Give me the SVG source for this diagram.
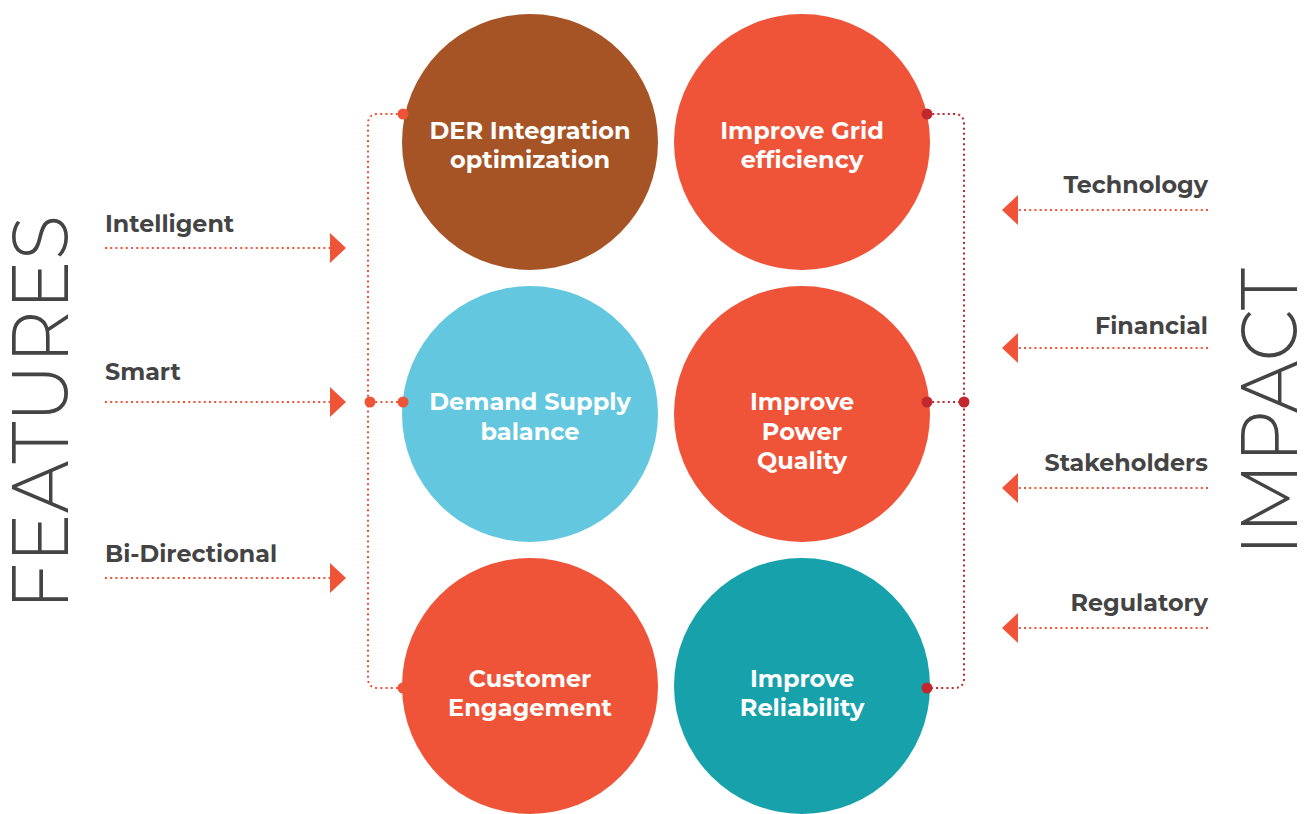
<svg xmlns="http://www.w3.org/2000/svg" width="1308" height="814" viewBox="0 0 1308 814">
<style>
.lbl{font-family:"Montserrat","Open Sans","Liberation Sans",sans-serif;font-weight:700;font-size:23.8px;fill:#444}
.ct{font-family:"Montserrat","Open Sans","Liberation Sans",sans-serif;font-weight:700;font-size:24px;fill:#fff;text-anchor:middle}
.big{font-family:"Montserrat","Lato","Open Sans","Liberation Sans",sans-serif;font-weight:300;font-size:80px;fill:#444}
.dl{fill:none;stroke:#ef5338;stroke-width:2;stroke-dasharray:2 3.2}
.dr{fill:none;stroke:#c0282d;stroke-width:2;stroke-dasharray:2 3.2}
.ah{fill:#ef5338}
</style>
<rect width="1308" height="814" fill="#fff"/>
<text class="big" transform="translate(68,610) rotate(-90)" textLength="395" lengthAdjust="spacingAndGlyphs">FEATURES</text>
<text class="big" transform="translate(1297,556) rotate(-90)" textLength="288" lengthAdjust="spacingAndGlyphs">IMPACT</text>
<g id="connectors">
<path class="dl" d="M403,114 H378 Q368,114 368,124 V678 Q368,688 378,688 H403"/>
<path class="dl" d="M370,402 H403"/>
<path class="dr" d="M927,114 H954 Q964,114 964,124 V678 Q964,688 954,688 H927"/>
<path class="dr" d="M927,402 H964"/>
<path class="dl" d="M105,248 H332"/>
<polygon class="ah" points="330,233 346,248 330,263"/>
<path class="dl" d="M105,402 H332"/>
<polygon class="ah" points="330,387 346,402 330,417"/>
<path class="dl" d="M105,578 H332"/>
<polygon class="ah" points="330,563 346,578 330,593"/>
<path class="dl" d="M1208,210 H1016"/>
<polygon class="ah" points="1018,195 1002,210 1018,225"/>
<path class="dl" d="M1208,348 H1016"/>
<polygon class="ah" points="1018,333 1002,348 1018,363"/>
<path class="dl" d="M1208,488 H1016"/>
<polygon class="ah" points="1018,473 1002,488 1018,503"/>
<path class="dl" d="M1208,628 H1016"/>
<polygon class="ah" points="1018,613 1002,628 1018,643"/>
</g>
<g id="labels">
<text class="lbl" x="105" y="232">Intelligent</text>
<text class="lbl" x="105" y="380">Smart</text>
<text class="lbl" x="105" y="562">Bi-Directional</text>
<text class="lbl" x="1208" y="193" text-anchor="end">Technology</text>
<text class="lbl" x="1208" y="334" text-anchor="end">Financial</text>
<text class="lbl" x="1208" y="471" text-anchor="end">Stakeholders</text>
<text class="lbl" x="1208" y="611" text-anchor="end">Regulatory</text>
</g>
<g id="n1"><circle cx="530" cy="142" r="128" fill="#a65426"/><text class="ct" x="530" y="139">DER Integration</text><text class="ct" x="530" y="168">optimization</text></g>
<g id="n2"><circle cx="802" cy="142" r="128" fill="#ef5338"/><text class="ct" x="802" y="139">Improve Grid</text><text class="ct" x="802" y="168">efficiency</text></g>
<g id="n3"><circle cx="530" cy="414" r="128" fill="#63c8df"/><text class="ct" x="530" y="410">Demand Supply</text><text class="ct" x="530" y="440">balance</text></g>
<g id="n4"><circle cx="802" cy="414" r="128" fill="#ef5338"/><text class="ct" x="802" y="410">Improve</text><text class="ct" x="802" y="440">Power</text><text class="ct" x="802" y="469">Quality</text></g>
<g id="n5"><circle cx="530" cy="686" r="128" fill="#ef5338"/><text class="ct" x="530" y="687">Customer</text><text class="ct" x="530" y="716">Engagement</text></g>
<g id="n6"><circle cx="802" cy="686" r="128" fill="#17a2ab"/><text class="ct" x="802" y="687">Improve</text><text class="ct" x="802" y="716">Reliability</text></g>
<g id="dots">
<circle cx="403" cy="114" r="5.5" fill="#ef5338"/>
<circle cx="370" cy="402" r="5.5" fill="#ef5338"/>
<circle cx="403" cy="402" r="5.5" fill="#ef5338"/>
<circle cx="403" cy="688" r="5.5" fill="#ef5338"/>
<circle cx="927" cy="114" r="5.5" fill="#c0282d"/>
<circle cx="927" cy="402" r="5.5" fill="#c0282d"/>
<circle cx="964" cy="402" r="5.5" fill="#c0282d"/>
<circle cx="927" cy="688" r="5.5" fill="#c0282d"/>
</g>
</svg>
